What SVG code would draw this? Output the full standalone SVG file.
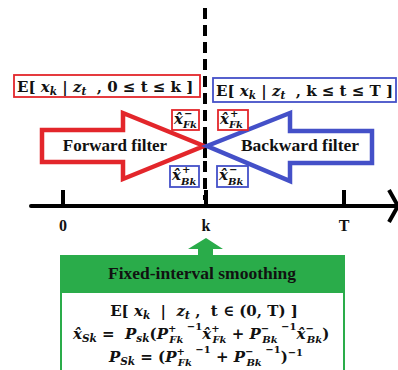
<svg xmlns="http://www.w3.org/2000/svg" width="398" height="370" viewBox="0 0 398 370">
<style>
text{font-family:"Liberation Serif","DejaVu Serif",serif;font-weight:bold;fill:#111}
.f{font-family:"DejaVu Serif","Liberation Serif",serif}
.m{font-style:italic}
.s{font-size:10.5px}
.t{font-size:10px}
.rb{fill:#fff;stroke:#e3262b;stroke-width:1.8}
.bb{fill:#fff;stroke:#4450c8;stroke-width:1.8}
.axis{stroke:#000;stroke-width:4;fill:none}
</style>
<rect width="398" height="370" fill="#fff"/>
<g id="connectors">
<line x1="205" y1="8" x2="205" y2="200" stroke="#000" stroke-width="4" stroke-dasharray="11 6"/>
<line x1="205" y1="134" x2="205" y2="158" stroke="#000" stroke-width="4"/>
<line class="axis" x1="31" y1="206" x2="396" y2="206" stroke-linecap="round"/>
<polyline class="axis" points="389,190 398,206 389,222"/>
<line class="axis" x1="63" y1="190" x2="63" y2="206"/>
<line class="axis" x1="206" y1="190" x2="206" y2="206"/>
<line class="axis" x1="344" y1="190" x2="344" y2="206"/>
<polygon points="206,238 223,249 213,249 213,256 198,256 198,249 188,249" fill="#2aac4a"/>
</g>
<g id="axis-labels" font-size="16">
<text x="63" y="231" text-anchor="middle">0</text>
<text x="206" y="231" text-anchor="middle">k</text>
<text x="344" y="231" text-anchor="middle">T</text>
</g>
<g id="forward-range">
<rect class="rb" x="14" y="75" width="186" height="22"/>
<text class="f" x="17" y="92" font-size="15" xml:space="preserve">E[ <tspan class="m">x</tspan><tspan class="m s" dy="3">k</tspan><tspan dy="-3"> | </tspan><tspan class="m">z</tspan><tspan class="m s" dy="3">t</tspan><tspan dy="-3">  , 0 ≤ t ≤ k ]</tspan></text>
</g>
<g id="backward-range">
<rect class="bb" x="213" y="78" width="183" height="24"/>
<text class="f" x="216" y="96" font-size="15" xml:space="preserve">E[ <tspan class="m">x</tspan><tspan class="m s" dy="3">k</tspan><tspan dy="-3"> | </tspan><tspan class="m">z</tspan><tspan class="m s" dy="3">t</tspan><tspan dy="-3">  , k ≤ t ≤ T ]</tspan></text>
</g>
<g id="forward-filter">
<polygon points="42,130 123,130 123,113 204,146 123,179 123,162 42,162" fill="#fff" stroke="#e3262b" stroke-width="4.5" stroke-linejoin="miter"/>
<text x="115" y="151" font-size="17" text-anchor="middle">Forward filter</text>
</g>
<g id="backward-filter">
<polygon points="207,146 290,113 290,131 372,131 372,163 290,163 290,181" fill="#fff" stroke="#4450c8" stroke-width="4.5" stroke-linejoin="miter"/>
<text x="300" y="151" font-size="17.5" text-anchor="middle">Backward filter</text>
</g>
<g id="xF-minus">
<rect class="rb" x="172" y="110" width="27" height="20"/>
<text class="f m" x="174" y="124" font-size="15">x̂</text>
<text class="f t" x="184" y="116.5">−</text>
<text class="f m t" x="183" y="128">Fk</text>
</g>
<g id="xF-plus">
<rect class="rb" x="218" y="110" width="30" height="20"/>
<text class="f m" x="220" y="124" font-size="15">x̂</text>
<text class="f t" x="230" y="116.5">+</text>
<text class="f m t" x="229" y="128">Fk</text>
</g>
<g id="xB-plus">
<rect class="bb" x="170" y="166" width="29" height="21"/>
<text class="f m" x="172" y="180" font-size="15">x̂</text>
<text class="f t" x="182" y="173">+</text>
<text class="f m t" x="181" y="185">Bk</text>
</g>
<g id="xB-minus">
<rect class="bb" x="217" y="166" width="31" height="21"/>
<text class="f m" x="219" y="180" font-size="15">x̂</text>
<text class="f t" x="229" y="173">−</text>
<text class="f m t" x="228" y="185">Bk</text>
</g>
<g id="smoothing">
<rect x="60" y="255" width="285" height="38" fill="#2aac4a"/>
<rect x="61" y="292" width="283" height="82" fill="#fff" stroke="#2aac4a" stroke-width="2"/>
<text x="202" y="279" font-size="17.5" text-anchor="middle" fill="#0d2a12">Fixed-interval smoothing</text>
<text class="f" x="204" y="316" font-size="15" text-anchor="middle" xml:space="preserve">E[ <tspan class="m">x</tspan><tspan class="m s" dy="3">k</tspan><tspan dy="-3">  |  </tspan><tspan class="m">z</tspan><tspan class="m s" dy="3">t</tspan><tspan dy="-3"> ,  t ∈ (0, T) ]</tspan></text>
<text class="f" x="73" y="339" font-size="15" xml:space="preserve"><tspan class="m">x̂</tspan><tspan class="m s" dy="3">Sk</tspan><tspan dy="-3"> =  </tspan><tspan class="m">P</tspan><tspan class="m s" dy="3">sk</tspan><tspan dy="-3">(</tspan><tspan class="m">P</tspan><tspan class="t" dy="-7">+</tspan><tspan class="m t" dx="-7" dy="11">Fk</tspan><tspan class="t" dy="-13"> −1</tspan><tspan class="m" dy="9">x̂</tspan><tspan class="t" dy="-7">+</tspan><tspan class="m t" dx="-7" dy="11">Fk</tspan><tspan dy="-4"> + </tspan><tspan class="m">P</tspan><tspan class="t" dy="-7">−</tspan><tspan class="m t" dx="-7" dy="11">Bk</tspan><tspan class="t" dy="-13"> −1</tspan><tspan class="m" dy="9">x̂</tspan><tspan class="t" dy="-7">−</tspan><tspan class="m t" dx="-7" dy="11">Bk</tspan><tspan dy="-4">)</tspan></text>
<text class="f" x="206" y="362" font-size="15" text-anchor="middle" xml:space="preserve"><tspan class="m">P</tspan><tspan class="m s" dy="3">Sk</tspan><tspan dy="-3"> = (</tspan><tspan class="m">P</tspan><tspan class="t" dy="-7">+</tspan><tspan class="m t" dx="-7" dy="11">Fk</tspan><tspan class="t" dy="-13"> −1</tspan><tspan dy="9"> + </tspan><tspan class="m">P</tspan><tspan class="t" dy="-7">−</tspan><tspan class="m t" dx="-7" dy="11">Bk</tspan><tspan class="t" dy="-13"> −1</tspan><tspan dy="9">)</tspan><tspan class="t" dy="-6">−1</tspan></text>
</g>
</svg>
